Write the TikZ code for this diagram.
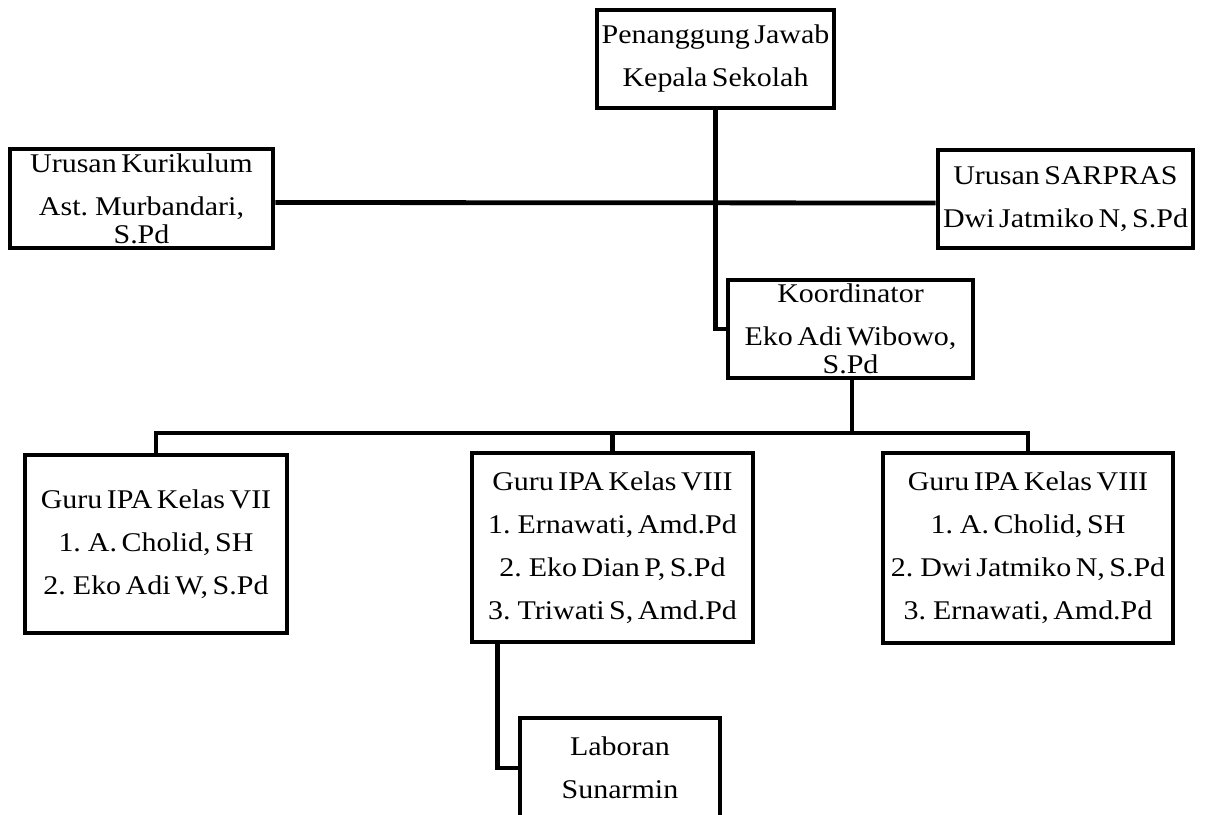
\documentclass[tikz,border=0pt]{standalone}
\usepackage{fontspec}
\setmainfont{Liberation Serif}[FakeStretch=1.11,WordSpace=0.6]

\tikzset{
  jabatan/.style={draw, line width=2.4pt, inner sep=0pt, align=center,
    font=\fontsize{13.5}{21.5}\selectfont},
  garis/.style={line width=2.4pt}
}

\begin{document}
\begin{tikzpicture}[x=0.5pt, y=-0.5pt]
  \useasboundingbox (0,0) rectangle (1208,814);
  \node[jabatan, minimum width=118.5pt, minimum height=49pt] (pj) at (715.5,59)
    {Penanggung Jawab\\Kepala Sekolah};
  \node[jabatan, minimum width=131.5pt, minimum height=49.5pt] (kur) at (141.5,198.5)
    {Urusan Kurikulum\\Ast. Murbandari,\\[-7.5pt]S.Pd};
  \node[jabatan, minimum width=127.5pt, minimum height=49pt] (sar) at (1065.5,199)
    {Urusan SARPRAS\\Dwi Jatmiko N, S.Pd};
  \node[jabatan, minimum width=122.5pt, minimum height=49pt] (koor) at (850.5,329)
    {Koordinator\\Eko Adi Wibowo,\\[-7.5pt]S.Pd};
  \node[jabatan, minimum width=131pt, minimum height=89pt] (g7) at (156,544)
    {Guru IPA Kelas VII\\1. A. Cholid, SH\\2. Eko Adi W, S.Pd};
  \node[jabatan, minimum width=140.5pt, minimum height=94.5pt] (g8a) at (612.5,547.5)
    {Guru IPA Kelas VIII\\1. Ernawati, Amd.Pd\\2. Eko Dian P, S.Pd\\3. Triwati S, Amd.Pd};
  \node[jabatan, minimum width=145pt, minimum height=95pt] (g8b) at (1028,548)
    {Guru IPA Kelas VIII\\1. A. Cholid, SH\\2. Dwi Jatmiko N, S.Pd\\3. Ernawati, Amd.Pd};
  \node[jabatan, minimum width=100pt, minimum height=50pt] (lab) at (620,768)
    {Laboran\\Sunarmin};

  \coordinate (bus) at (852,433);
  \draw[garis] ([yshift=-2pt]kur.east) -- ([yshift=-2pt]sar.west);
  \draw[garis] (pj.south) |- (koor.west);
  \draw[garis] (koor.south -| bus) -- (bus);
  \draw[garis] (g7.north) |- (bus) -| (g8b.north);
  \draw[garis] (g8a.north) -- (g8a.north |- bus);
  \draw[garis] ([xshift=14pt]g8a.south west) |- (lab.west);
\end{tikzpicture}
\end{document}
